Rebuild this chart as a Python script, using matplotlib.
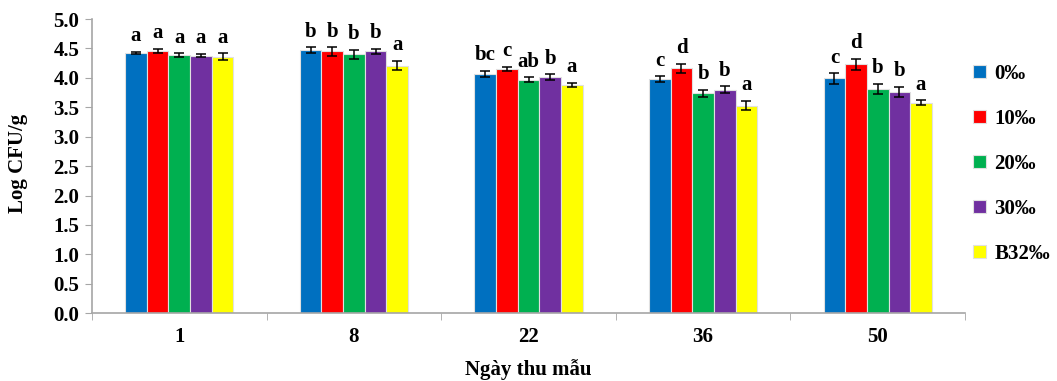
import numpy as np
import matplotlib.pyplot as plt

days = ["1", "8", "22", "36", "50"]
series = ["0‰", "10‰", "20‰", "30‰", "B32‰"]
colors = ["#0070c0", "#ff0000", "#00b050", "#7030a0", "#ffff00"]

means = [
    [4.42, 4.47, 4.07, 3.98, 3.99],   # 0‰
    [4.46, 4.45, 4.15, 4.16, 4.23],   # 10‰
    [4.39, 4.40, 3.97, 3.74, 3.81],   # 20‰
    [4.38, 4.45, 4.01, 3.80, 3.76],   # 30‰
    [4.36, 4.21, 3.88, 3.53, 3.58],   # B32‰
]
errors = [
    [0.02, 0.05, 0.05, 0.05, 0.09],
    [0.03, 0.07, 0.04, 0.08, 0.09],
    [0.03, 0.08, 0.04, 0.06, 0.09],
    [0.03, 0.04, 0.05, 0.06, 0.09],
    [0.06, 0.08, 0.04, 0.08, 0.04],
]
letters = [
    ["a", "b", "bc", "c", "c"],
    ["a", "b", "c", "d", "d"],
    ["a", "b", "ab", "b", "b"],
    ["a", "b", "b", "b", "b"],
    ["a", "a", "a", "a", "a"],
]

plt.rcParams['font.family'] = ['Liberation Serif', 'DejaVu Serif']
plt.rcParams['font.weight'] = 'bold'
fs = 15

fig = plt.figure(figsize=(10.57, 3.81), dpi=100)
ax = fig.add_axes([0.087, 0.178, 0.826, 0.772])

x = np.arange(len(days))
w = 0.124
for i, name in enumerate(series):
    pos = x + (i - 2) * w
    ax.bar(pos, means[i], w, color=colors[i], edgecolor="#e0e0e0", linewidth=0.8,
           label=name, zorder=2)
    ax.errorbar(pos, means[i], yerr=errors[i], fmt="none", ecolor="black",
                elinewidth=1.1, capsize=3.5, capthick=1.1, zorder=3)
    for j in range(len(days)):
        ax.annotate(letters[i][j], (pos[j], means[i][j] + errors[i][j]),
                    xytext=(0, 4), textcoords="offset points",
                    ha="center", va="bottom", fontsize=fs, fontweight="bold")

ax.set_xlim(-0.5, len(days) - 0.5)
ax.set_ylim(0, 5.0)
ax.set_yticks(np.arange(0, 5.01, 0.5))
ax.set_yticklabels([f"{v:.1f}" for v in np.arange(0, 5.01, 0.5)])
ax.set_xticks(x)
ax.set_xticklabels(days)
ax.set_xticks(np.arange(-0.5, len(days), 1.0), minor=True)
ax.tick_params(axis="x", which="major", length=0, pad=10, labelsize=fs)
ax.tick_params(axis="x", which="minor", length=5, color="#a6a6a6", direction="out")
ax.tick_params(axis="y", length=5, color="#a6a6a6", labelsize=fs, pad=4)
for s in ["top", "right"]:
    ax.spines[s].set_visible(False)
for s in ["left", "bottom"]:
    ax.spines[s].set_color("#a6a6a6")
    ax.spines[s].set_linewidth(1.2)

fig.text(0.4995, 1 - 370 / 381, "Ngày thu mẫu", ha="center", va="center",
         fontsize=fs, fontweight="bold")
fig.text(18 / 1057, 1 - 163 / 381, "Log CFU/g", ha="center", va="center",
         rotation=90, fontsize=fs, fontweight="bold")

ax.legend(loc="upper left", bbox_to_anchor=(1.0, 0.875), frameon=False,
          handlelength=0.6, handleheight=0.6, handletextpad=0.4,
          labelspacing=1.2, fontsize=fs, borderaxespad=0)

fig.savefig("out.png", dpi=100)
